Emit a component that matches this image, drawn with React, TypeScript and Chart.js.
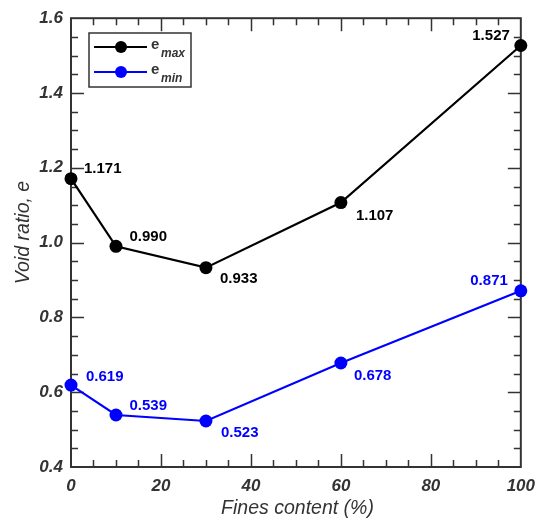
import React, { useEffect, useRef } from "react";
import { Chart, registerables } from "chart.js";

Chart.register(...registerables);

// ---- data ----
const finesContent = [0, 10, 30, 60, 100];
const eMaxValues = [1.171, 0.99, 0.933, 1.107, 1.527];
const eMinValues = [0.619, 0.539, 0.523, 0.678, 0.871];
const eMaxLabels = ["1.171", "0.990", "0.933", "1.107", "1.527"];
const eMinLabels = ["0.619", "0.539", "0.523", "0.678", "0.871"];
const xTickStep = 20;
const yTickStep = 0.2;
const xRange = [0, 100];
const yRange = [0.4, 1.6];
const xTitle = "Fines content (%)";
const yTitle = "Void ratio, e";

// ---- styling ----
const FONT = "'Liberation Sans', Arial, Helvetica, sans-serif";
const AXIS_COLOR = "#333333";
const MAX_COLOR = "#000000";
const MIN_COLOR = "#0000ff";
// label placement: [dx, dy, align]
const maxLabelPos: [number, number, CanvasTextAlign][] = [
  [13, -10, "left"],
  [13.5, -9, "left"],
  [14, 11, "left"],
  [15, 13, "left"],
  [-11, -10, "right"],
];
const minLabelPos: [number, number, CanvasTextAlign][] = [
  [15, -8, "left"],
  [13.5, -9.5, "left"],
  [15, 12, "left"],
  [13, 13, "left"],
  [-13, -10, "right"],
];

const framePlugin = {
  id: "frameTicks",
  beforeDatasetsDraw(chart: any) {
    const { ctx, chartArea: a, scales } = chart;
    const xs = scales.x;
    const ys = scales.y;
    ctx.save();
    ctx.strokeStyle = AXIS_COLOR;
    ctx.lineWidth = 1.5;
    ctx.beginPath();
    for (let k = 1; k < 20; k++) {
      const v = xRange[0] + k * 5;
      const px = Math.round(xs.getPixelForValue(v)) + 0.5;
      const len = k % 4 === 0 ? 13 : 7;
      ctx.moveTo(px, a.bottom);
      ctx.lineTo(px, a.bottom - len);
      ctx.moveTo(px, a.top);
      ctx.lineTo(px, a.top + len);
    }
    for (let k = 1; k < 24; k++) {
      const v = yRange[0] + k * 0.05;
      const py = Math.round(ys.getPixelForValue(v)) + 0.5;
      const len = k % 4 === 0 ? 13 : 7;
      ctx.moveTo(a.left, py);
      ctx.lineTo(a.left + len, py);
      ctx.moveTo(a.right, py);
      ctx.lineTo(a.right - len, py);
    }
    ctx.stroke();
    ctx.lineWidth = 2;
    ctx.strokeRect(a.left, a.top, a.right - a.left, a.bottom - a.top);

    // axis titles
    ctx.fillStyle = AXIS_COLOR;
    ctx.font = `italic 19.5px ${FONT}`;
    ctx.textAlign = "center";
    ctx.textBaseline = "middle";
    ctx.fillText(xTitle, 297.5, 509);
    ctx.save();
    ctx.translate(24, 232.5);
    ctx.rotate(-Math.PI / 2);
    ctx.fillText(yTitle, 0, 0);
    ctx.restore();
    ctx.restore();
  },
  afterDraw(chart: any) {
    const { ctx } = chart;
    ctx.save();
    // value labels
    ctx.font = `bold 15px ${FONT}`;
    ctx.textBaseline = "middle";
    const sets = [
      { idx: 0, labels: eMaxLabels, pos: maxLabelPos, color: MAX_COLOR },
      { idx: 1, labels: eMinLabels, pos: minLabelPos, color: MIN_COLOR },
    ];
    for (const s of sets) {
      const meta = chart.getDatasetMeta(s.idx);
      ctx.fillStyle = s.color;
      meta.data.forEach((pt: any, i: number) => {
        const [dx, dy, al] = s.pos[i];
        ctx.textAlign = al;
        ctx.fillText(s.labels[i], pt.x + dx, pt.y + dy);
      });
    }

    // legend
    const bx = 89, by = 33, bw = 102, bh = 54;
    ctx.fillStyle = "#ffffff";
    ctx.fillRect(bx, by, bw, bh);
    ctx.strokeStyle = AXIS_COLOR;
    ctx.lineWidth = 1.5;
    ctx.strokeRect(bx, by, bw, bh);
    const rows = [
      { y: 47, color: MAX_COLOR, sub: "max" },
      { y: 72, color: MIN_COLOR, sub: "min" },
    ];
    for (const r of rows) {
      ctx.strokeStyle = r.color;
      ctx.lineWidth = 2.2;
      ctx.beginPath();
      ctx.moveTo(94, r.y);
      ctx.lineTo(147, r.y);
      ctx.stroke();
      ctx.fillStyle = r.color;
      ctx.beginPath();
      ctx.arc(121, r.y, 6, 0, Math.PI * 2);
      ctx.fill();
      ctx.fillStyle = AXIS_COLOR;
      ctx.textAlign = "left";
      ctx.textBaseline = "alphabetic";
      ctx.font = `bold 15px ${FONT}`;
      ctx.fillText("e", 151, r.y + 2);
      ctx.font = `bold italic 12px ${FONT}`;
      ctx.fillText(r.sub, 161, r.y + 10);
    }
    ctx.restore();
  },
};

export default function App() {
  const ref = useRef<HTMLCanvasElement | null>(null);
  useEffect(() => {
    if (!ref.current) return;
    const tickFont = { family: FONT, size: 17, style: "italic" as const, weight: "bold" as const };
    const chart = new Chart(ref.current, {
      type: "line",
      data: {
        datasets: [
          {
            label: "emax",
            data: finesContent.map((x, i) => ({ x, y: eMaxValues[i] })),
            borderColor: MAX_COLOR,
            backgroundColor: MAX_COLOR,
            pointBackgroundColor: MAX_COLOR,
            pointBorderWidth: 0,
            pointRadius: 6.5,
            borderWidth: 2.2,
            clip: false as any,
          },
          {
            label: "emin",
            data: finesContent.map((x, i) => ({ x, y: eMinValues[i] })),
            borderColor: MIN_COLOR,
            backgroundColor: MIN_COLOR,
            pointBackgroundColor: MIN_COLOR,
            pointBorderWidth: 0,
            pointRadius: 6.5,
            borderWidth: 2.2,
            clip: false as any,
          },
        ],
      },
      options: {
        animation: false,
        responsive: true,
        maintainAspectRatio: false,
        layout: { padding: { top: 14, right: 18, left: 0, bottom: 0 } },
        plugins: { legend: { display: false }, tooltip: { enabled: false } },
        scales: {
          x: {
            type: "linear",
            min: xRange[0],
            max: xRange[1],
            grid: { display: false, drawTicks: false },
            border: { display: false },
            ticks: {
              stepSize: xTickStep,
              padding: 9,
              color: AXIS_COLOR,
              font: tickFont,
              maxRotation: 0,
              callback: (v: any) => String(v),
            },
            afterFit: (s: any) => {
              s.height = 56;
            },
          },
          y: {
            type: "linear",
            min: yRange[0],
            max: yRange[1],
            grid: { display: false, drawTicks: false },
            border: { display: false },
            ticks: {
              stepSize: yTickStep,
              padding: 8,
              color: AXIS_COLOR,
              font: tickFont,
              callback: (v: any) => Number(v).toFixed(1),
            },
            afterFit: (s: any) => {
              s.width = 71;
            },
          },
        },
      },
      plugins: [framePlugin],
    });
    return () => chart.destroy();
  }, []);
  return (
    <div style={{ position: "absolute", left: 0, top: 0, width: 544, height: 523 }}>
      <canvas ref={ref} />
    </div>
  );
}
